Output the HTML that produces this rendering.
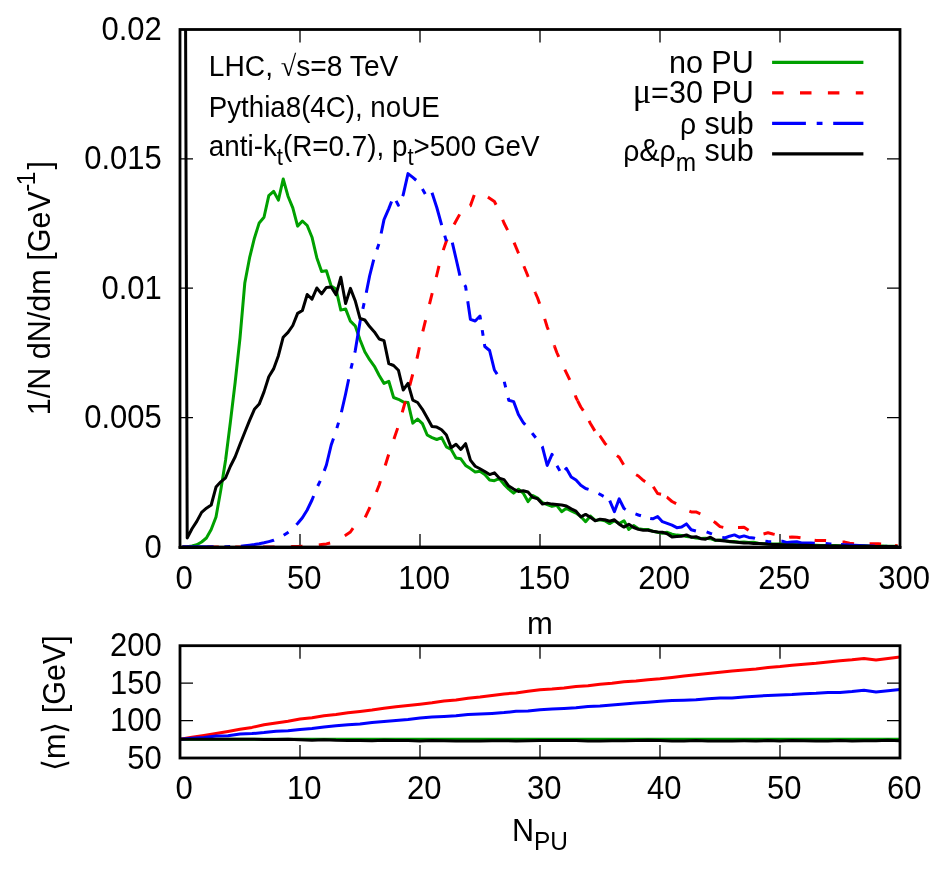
<!DOCTYPE html>
<html><head><meta charset="utf-8"><title>plot</title>
<style>html,body{margin:0;padding:0;background:#fff;}svg{display:block;will-change:transform;}text{font-family:"Liberation Sans",sans-serif;fill:#000;}</style></head><body>
<svg width="939" height="870" viewBox="0 0 939 870">
<rect x="0" y="0" width="939" height="870" fill="#fff"/>
<defs><clipPath id="c1"><rect x="180.0" y="29.5" width="720.0" height="519.5"/></clipPath>
<clipPath id="c2"><rect x="180.0" y="645.7" width="720.0" height="112.3"/></clipPath></defs>
<g stroke="#000" stroke-width="1.30" fill="none">
<path d="M300.0 547.0V534.0 M300.0 29.5V42.5"/>
<path d="M420.0 547.0V534.0 M420.0 29.5V42.5"/>
<path d="M540.0 547.0V534.0 M540.0 29.5V42.5"/>
<path d="M660.0 547.0V534.0 M660.0 29.5V42.5"/>
<path d="M780.0 547.0V534.0 M780.0 29.5V42.5"/>
<path d="M180.0 417.6H193.0 M900.0 417.6H887.0"/>
<path d="M180.0 288.2H193.0 M900.0 288.2H887.0"/>
<path d="M180.0 158.9H193.0 M900.0 158.9H887.0"/>
<path d="M300.0 758.0V745.0 M300.0 645.7V658.7"/>
<path d="M420.0 758.0V745.0 M420.0 645.7V658.7"/>
<path d="M540.0 758.0V745.0 M540.0 645.7V658.7"/>
<path d="M660.0 758.0V745.0 M660.0 645.7V658.7"/>
<path d="M780.0 758.0V745.0 M780.0 645.7V658.7"/>
<path d="M180.0 720.6H193.0 M900.0 720.6H887.0"/>
<path d="M180.0 683.1H193.0 M900.0 683.1H887.0"/>
</g>
<g clip-path="url(#c1)" fill="none" stroke-width="3.00" stroke-linejoin="round">
<polyline stroke="#00a000" points="182.4,547.0 187.2,546.8 192.0,546.0 196.8,544.7 201.6,542.0 206.4,538.0 211.2,529.5 216.0,517.0 220.8,490.0 225.6,460.0 230.4,422.0 235.2,382.0 240.0,338.0 244.8,283.0 249.6,257.7 254.4,238.2 259.2,222.9 264.0,217.3 268.8,195.6 273.6,191.3 278.4,200.1 283.2,179.0 288.0,196.2 292.8,207.9 297.6,226.1 302.4,221.0 307.2,225.5 312.0,237.2 316.8,257.7 321.6,271.4 326.4,270.8 331.2,286.1 336.0,289.0 340.8,310.1 345.6,308.9 350.4,321.2 355.2,325.8 360.0,339.8 364.8,351.7 369.6,359.7 374.4,366.3 379.2,375.5 384.0,383.4 388.8,381.3 393.6,397.5 398.4,399.3 403.2,401.9 408.0,402.5 412.8,423.1 417.6,419.1 422.4,423.6 427.2,435.0 432.0,437.6 436.8,439.5 441.6,437.6 446.4,446.9 451.2,449.5 456.0,458.0 460.8,458.8 465.6,465.4 470.4,468.6 475.2,472.0 480.0,471.2 484.8,474.6 489.6,479.9 494.4,480.7 499.2,478.6 504.0,484.4 508.8,489.2 513.6,493.1 518.4,489.2 523.2,493.0 528.0,501.6 532.8,495.5 537.6,498.1 542.4,502.6 547.2,504.5 552.0,506.4 556.8,505.4 561.6,511.7 566.4,508.3 571.2,510.8 576.0,513.1 580.8,516.5 585.6,521.7 590.4,516.0 595.2,520.4 600.0,519.8 604.8,520.8 609.6,523.6 614.4,520.8 619.2,523.6 624.0,520.8 628.8,529.4 633.6,525.6 638.4,528.8 643.2,529.4 648.0,529.4 652.8,531.3 657.6,532.3 662.4,533.2 667.2,532.3 672.0,534.2 676.8,535.1 681.6,535.4 686.4,536.6 691.2,537.0 696.0,538.0 700.8,538.6 705.6,538.3 710.4,538.7 715.2,540.4 720.0,540.0 724.8,540.4 729.6,541.8 734.4,541.5 739.2,542.3 744.0,542.1 748.8,542.6 753.6,542.3 758.4,543.2 763.2,543.7 768.0,543.5 772.8,543.9 777.6,544.1 782.4,543.7 787.2,544.5 792.0,544.5 796.8,544.4 801.6,544.3 806.4,545.1 811.2,545.0 816.0,545.2 820.8,545.4 825.6,545.4 830.4,545.6 835.2,545.4 840.0,545.7 844.8,545.6 849.6,545.9 854.4,545.9 859.2,545.7 864.0,545.8 868.8,545.9 873.6,546.1 878.4,546.1 883.2,546.1 888.0,546.2 892.8,546.2 897.6,546.2"/>
<polyline stroke="#ff0000" stroke-dasharray="11.5 16.4" stroke-dashoffset="3" points="182.4,547.0 187.2,547.0 192.0,547.0 196.8,547.0 201.6,547.0 206.4,547.0 211.2,547.0 216.0,547.0 220.8,547.0 225.6,547.0 230.4,547.0 235.2,547.0 240.0,547.0 244.8,547.0 249.6,547.0 254.4,547.0 259.2,547.0 264.0,547.0 268.8,547.0 273.6,547.0 278.4,547.0 283.2,547.0 288.0,547.0 292.8,546.5 297.6,546.4 302.4,546.2 307.2,546.0 312.0,545.6 316.8,545.2 321.6,544.6 326.4,543.9 331.2,542.8 336.0,541.0 340.8,538.0 345.6,535.2 350.4,532.0 355.2,525.0 360.0,521.5 364.8,518.3 369.6,508.0 374.4,497.0 379.2,485.0 384.0,469.5 388.8,454.0 393.6,440.0 398.4,426.0 403.2,409.0 408.0,392.0 412.8,374.0 417.6,356.0 422.4,333.0 427.2,313.5 432.0,294.0 436.8,275.0 441.6,255.0 446.4,241.0 451.2,229.8 456.0,221.0 460.8,212.3 465.6,204.5 470.4,205.8 475.2,192.5 480.0,193.5 484.8,195.2 489.6,198.2 494.4,201.5 499.2,211.0 504.0,223.0 508.8,232.5 513.6,241.5 514.1,242.7"/>
<polyline stroke="#ff0000" stroke-dasharray="11.5 16.4" stroke-dashoffset="0" points="514.1,242.7 518.4,253.0 523.2,264.5 523.9,266.2"/>
<polyline stroke="#ff0000" stroke-dasharray="11.5 16.4" stroke-dashoffset="0" points="523.9,266.2 528.0,276.3 532.8,287.0 535.4,293.0"/>
<polyline stroke="#ff0000" stroke-dasharray="11.5 16.4" stroke-dashoffset="0" points="535.4,293.0 537.6,298.0 542.4,311.5 544.7,318.9"/>
<polyline stroke="#ff0000" stroke-dasharray="11.5 16.4" stroke-dashoffset="0" points="544.7,318.9 547.2,327.0 552.0,339.3 554.5,346.2"/>
<polyline stroke="#ff0000" stroke-dasharray="11.5 16.4" stroke-dashoffset="0" points="554.5,346.2 556.8,352.5 561.6,363.3 564.8,369.6"/>
<polyline stroke="#ff0000" stroke-dasharray="11.5 16.4" stroke-dashoffset="0" points="564.8,369.6 566.4,372.8 571.2,383.0 576.0,397.5 577.6,400.7"/>
<polyline stroke="#ff0000" stroke-dasharray="11.5 16.4" stroke-dashoffset="0" points="577.6,400.7 580.8,407.0 585.6,414.0 589.1,420.9"/>
<polyline stroke="#ff0000" stroke-dasharray="11.5 16.4" stroke-dashoffset="0" points="589.1,420.9 590.4,423.5 595.2,431.5 599.7,435.7"/>
<polyline stroke="#ff0000" stroke-dasharray="11.5 16.4" stroke-dashoffset="0" points="599.7,435.7 600.0,436.0 604.8,443.2 609.6,448.6 614.4,453.8 616.9,455.6"/>
<polyline stroke="#ff0000" stroke-dasharray="11.5 16.4" stroke-dashoffset="0" points="616.9,455.6 619.2,457.3 624.0,465.3 628.8,469.3 633.6,473.2 636.1,474.7"/>
<polyline stroke="#ff0000" stroke-dasharray="11.5 16.4" stroke-dashoffset="0" points="636.1,474.7 638.4,476.0 643.2,480.3 648.0,483.5 652.8,486.0 653.3,486.8"/>
<polyline stroke="#ff0000" stroke-dasharray="11.5 16.4" stroke-dashoffset="0" points="653.3,486.8 657.6,493.5 662.4,494.5 666.8,497.1"/>
<polyline stroke="#ff0000" stroke-dasharray="11.5 16.4" stroke-dashoffset="0" points="666.8,497.1 667.2,497.3 672.0,501.5 676.8,504.0 681.6,507.3 686.4,510.1 689.4,511.2"/>
<polyline stroke="#ff0000" stroke-dasharray="11.5 16.4" stroke-dashoffset="0" points="689.4,511.2 691.2,511.9 696.0,511.9 700.8,514.0 705.6,516.7 710.4,519.4 713.7,521.5"/>
<polyline stroke="#ff0000" stroke-dasharray="11.5 16.4" stroke-dashoffset="0" points="713.7,521.5 715.2,522.5 720.0,526.6 724.8,527.7 729.6,527.7 734.4,527.7 738.0,527.6"/>
<polyline stroke="#ff0000" stroke-dasharray="11.5 16.4" stroke-dashoffset="0" points="738.0,527.6 739.2,527.6 744.0,527.3 748.8,530.5 753.6,531.7 758.4,532.9 763.2,534.1 763.5,534.0"/>
<polyline stroke="#ff0000" stroke-dasharray="11.5 16.4" stroke-dashoffset="0" points="763.5,534.0 768.0,532.8 772.8,534.0 777.6,535.0 782.4,536.2 787.2,537.6 789.1,537.3"/>
<polyline stroke="#ff0000" stroke-dasharray="11.5 16.4" stroke-dashoffset="0" points="789.1,537.3 792.0,536.9 796.8,537.2 801.6,538.0 806.4,538.8 811.2,539.8 814.6,540.3"/>
<polyline stroke="#ff0000" stroke-dasharray="11.5 16.4" stroke-dashoffset="0" points="814.6,540.3 816.0,540.5 820.8,540.5 825.6,540.5 830.4,540.8 835.2,541.2 840.0,541.6 842.7,541.9"/>
<polyline stroke="#ff0000" stroke-dasharray="11.5 16.4" stroke-dashoffset="0" points="842.7,541.9 844.8,542.1 849.6,543.2 854.4,543.8 859.2,543.8 864.0,543.8 868.8,543.8 869.6,543.8"/>
<polyline stroke="#ff0000" stroke-dasharray="11.5 16.4" stroke-dashoffset="0" points="869.6,543.8 873.6,543.8 878.4,543.8 883.2,544.2 888.0,544.8 892.8,545.3 895.1,545.5"/>
<polyline stroke="#ff0000" stroke-dasharray="11.5 16.4" stroke-dashoffset="0" points="895.1,545.5 897.6,545.7"/>
<polyline stroke="#0000ff" stroke-dasharray="33.8 10.8 5.8 10.7" stroke-dashoffset="2.6" points="182.4,546.8 187.2,546.8 192.0,546.8 196.8,546.8 201.6,546.8 206.4,546.8 211.2,546.8 216.0,546.8 220.8,546.8 225.6,546.8 230.4,546.6 235.2,546.5 240.0,546.3 244.8,545.8 249.6,545.2 254.4,544.6 259.2,543.8 264.0,542.8 268.8,541.6 273.6,540.3 278.4,538.2 283.2,535.6 288.0,532.4 292.8,528.3 297.6,523.5 302.4,517.8 307.2,510.0 312.0,500.0 316.8,488.0 321.6,478.0 326.4,465.0 331.2,445.0 336.0,431.0 340.8,415.0 345.6,394.0 350.4,371.0 355.2,351.0 360.0,322.0 364.8,300.0 369.6,276.0 374.4,257.0 379.2,243.0 384.0,219.6 388.8,208.6 393.6,196.3 398.4,205.2 402.6,196.2"/>
<polyline stroke="#0000ff" stroke-dasharray="33.8 10.8 5.8 10.7" stroke-dashoffset="0" points="402.6,196.2 403.2,194.9 408.0,173.6 412.8,177.4 417.6,181.5 422.4,189.0 427.2,197.5 432.0,192.8 436.8,207.5 441.6,224.8 446.4,241.2 451.2,238.0 456.0,258.5 460.8,279.5 465.6,286.5 470.4,319.3 475.2,321.0 480.0,316.0 484.4,344.0"/>
<polyline stroke="#0000ff" stroke-dasharray="33.8 10.8 5.8 10.7" stroke-dashoffset="0" points="484.4,344.0 484.8,346.5 489.6,350.5 494.4,370.0 499.2,377.3 504.0,380.6 508.8,400.3 513.6,401.6 518.4,414.5 523.2,422.5 528.0,428.0 532.8,434.0 537.6,440.0 542.4,446.8 547.2,465.5 552.0,454.3 556.8,465.5 561.6,474.0 564.9,470.1"/>
<polyline stroke="#0000ff" stroke-dasharray="33.8 10.8 5.8 10.7" stroke-dashoffset="0" points="564.9,470.1 566.4,468.4 571.2,477.0 576.0,480.0 580.8,485.3 585.6,488.5 590.4,490.0 595.2,491.8 600.0,494.3 604.8,497.0 609.6,500.5 609.7,500.7"/>
<polyline stroke="#0000ff" stroke-dasharray="38.3 10.8 5.8 10.7 33.8 10.8 5.8 10.7" stroke-dashoffset="0" points="609.7,500.7 614.4,511.7 619.2,498.9 624.0,508.5 628.8,511.3 633.6,513.3 638.4,515.0 643.2,516.5 648.0,518.0 650.2,518.4"/>
<polyline stroke="#0000ff" stroke-dasharray="53.7 10.8 5.8 10.7 33.8 10.8 5.8 10.7" stroke-dashoffset="0" points="650.2,518.4 652.8,518.8 657.6,516.5 662.4,521.7 667.2,523.4 672.0,525.2 676.8,527.7 681.6,527.0 686.4,523.9 691.2,529.8 696.0,531.1 700.8,531.3 705.6,531.5 710.4,533.4 715.2,535.0 720.0,536.8 722.8,537.5"/>
<polyline stroke="#0000ff" stroke-dasharray="33.8 10.8 5.8 10.7" stroke-dashoffset="0" points="722.8,537.5 724.8,538.0 729.6,536.2 734.4,534.9 739.2,537.2 744.0,535.9 748.8,537.4 753.6,538.0 758.4,539.5 763.2,541.0 768.0,541.6 772.8,541.8 777.6,541.5 781.4,541.3"/>
<polyline stroke="#0000ff" stroke-dasharray="33.8 10.8 5.8 10.7" stroke-dashoffset="0" points="781.4,541.3 782.4,541.3 787.2,542.6 792.0,542.0 796.8,541.8 801.6,543.0 806.4,543.1 811.2,543.1 816.0,543.3 820.8,543.1 825.6,543.5 830.4,544.0 835.2,544.3 840.0,544.5 841.0,544.5"/>
<polyline stroke="#0000ff" stroke-dasharray="33.8 10.8 5.8 10.7" stroke-dashoffset="0" points="841.0,544.5 844.8,544.7 849.6,544.9 854.4,545.2 859.2,545.4 864.0,545.7 868.8,545.9 873.6,546.1 878.4,546.2 883.2,546.3 888.0,546.4 892.8,546.4 897.6,546.5"/>
<polyline stroke="#000" points="182.4,-986.0 187.2,538.1 192.0,528.8 196.8,521.4 201.6,512.4 206.4,508.2 211.2,505.0 216.0,487.1 220.8,481.8 225.6,477.8 230.4,466.2 235.2,456.7 240.0,444.2 244.8,432.3 249.6,420.4 254.4,409.3 259.2,404.1 264.0,391.9 268.8,376.8 273.6,368.9 278.4,355.7 283.2,337.2 288.0,332.4 292.8,325.5 297.6,313.4 302.4,310.5 307.2,294.5 312.0,299.1 316.8,288.0 321.6,293.9 326.4,287.4 331.2,287.0 336.0,294.8 340.8,277.3 345.6,303.6 350.4,288.4 355.2,300.7 360.0,318.3 364.8,320.0 369.6,326.6 374.4,331.9 379.2,339.0 384.0,340.6 388.8,363.6 393.6,365.5 398.4,370.2 403.2,390.0 408.0,383.4 412.8,400.1 417.6,402.5 422.4,409.3 427.2,417.8 432.0,426.5 436.8,427.1 441.6,429.7 446.4,435.0 451.2,447.7 456.0,444.2 460.8,449.5 465.6,443.7 470.4,460.1 475.2,466.2 480.0,468.8 484.8,471.5 489.6,474.6 494.4,472.8 499.2,478.1 504.0,479.7 508.8,486.1 513.6,489.1 518.4,491.5 523.2,490.7 528.0,492.0 532.8,497.4 537.6,498.7 542.4,504.1 547.2,503.1 552.0,504.1 556.8,504.5 561.6,505.0 566.4,506.0 571.2,508.9 576.0,511.2 580.8,516.9 585.6,514.4 590.4,517.3 595.2,520.8 600.0,519.2 604.8,519.8 609.6,521.3 614.4,519.8 619.2,524.2 624.0,527.1 628.8,524.2 633.6,527.5 638.4,529.4 643.2,530.3 648.0,530.3 652.8,531.3 657.6,531.9 662.4,532.3 667.2,533.8 672.0,537.1 676.8,536.5 681.6,536.2 686.4,534.9 691.2,537.2 696.0,536.7 700.8,538.7 705.6,539.2 710.4,537.2 715.2,540.0 720.0,540.4 724.8,541.1 729.6,541.5 734.4,542.1 739.2,542.4 744.0,542.9 748.8,543.1 753.6,543.5 758.4,543.6 763.2,543.7 768.0,544.2 772.8,544.5 777.6,544.6 782.4,544.7 787.2,544.9 792.0,544.9 796.8,545.2 801.6,545.3 806.4,545.3 811.2,545.4 816.0,545.7 820.8,545.8 825.6,545.7 830.4,546.0 835.2,546.0 840.0,546.0 844.8,546.1 849.6,546.2 854.4,546.3 859.2,546.2 864.0,546.3 868.8,546.3 873.6,546.4 878.4,546.4 883.2,546.5 888.0,546.5 892.8,546.5 897.6,546.6"/>
</g>
<g fill="none" stroke-width="3.2">
<path stroke="#00a000" d="M772.1 62.4H863.4"/>
<path stroke="#ff0000" stroke-dasharray="11.5 16.4" d="M772.1 92.9H863.4"/>
<path stroke="#0000ff" stroke-dasharray="33.8 10.8 5.8 10.7" d="M772.1 123.4H863.4"/>
<path stroke="#000" d="M772.1 153.9H863.4"/>
</g>
<text transform="translate(753.80,72.60) scale(0.9550,1)" font-size="32.00" text-anchor="end">no PU</text>
<text transform="translate(753.80,103.10) scale(0.9550,1)" font-size="32.00" text-anchor="end"><tspan font-family="Liberation Serif" font-size="36">&#956;</tspan>=30 PU</text>
<text transform="translate(753.80,133.60) scale(0.9550,1)" font-size="32.00" text-anchor="end"><tspan font-size="29.6">&#961;</tspan> sub</text>
<text transform="translate(753.80,161.20) scale(0.9550,1)" font-size="32.00" text-anchor="end"><tspan font-size="29.6">&#961;</tspan>&amp;<tspan font-size="29.6">&#961;</tspan><tspan font-size="25.6" dy="9.4">m</tspan><tspan dy="-9.4"> sub</tspan></text>
<text transform="translate(208.80,75.80) scale(0.9720,1)" font-size="29.00" text-anchor="start">LHC, <tspan font-family="Liberation Serif">&#8730;</tspan>s=8 TeV</text>
<text transform="translate(208.80,116.90) scale(0.9550,1)" font-size="29.00" text-anchor="start">Pythia8(4C), noUE</text>
<text transform="translate(208.80,156.20) scale(0.9590,1)" font-size="29.00" text-anchor="start">anti-k<tspan font-size="23.2" dy="9.2">t</tspan><tspan dy="-9.2">(R=0.7), p</tspan><tspan font-size="23.2" dy="9.2">t</tspan><tspan dy="-9.2">&gt;500 GeV</tspan></text>
<text transform="translate(161.80,40.00) scale(0.9550,1)" font-size="32.50" text-anchor="end">0.02</text>
<text transform="translate(161.80,169.38) scale(0.9550,1)" font-size="32.50" text-anchor="end">0.015</text>
<text transform="translate(161.80,298.75) scale(0.9550,1)" font-size="32.50" text-anchor="end">0.01</text>
<text transform="translate(161.80,428.12) scale(0.9550,1)" font-size="32.50" text-anchor="end">0.005</text>
<text transform="translate(161.80,557.50) scale(0.9550,1)" font-size="32.50" text-anchor="end">0</text>
<text transform="translate(184.20,588.50) scale(0.9550,1)" font-size="32.50" text-anchor="middle">0</text>
<text transform="translate(304.20,588.50) scale(0.9550,1)" font-size="32.50" text-anchor="middle">50</text>
<text transform="translate(424.20,588.50) scale(0.9550,1)" font-size="32.50" text-anchor="middle">100</text>
<text transform="translate(544.20,588.50) scale(0.9550,1)" font-size="32.50" text-anchor="middle">150</text>
<text transform="translate(664.20,588.50) scale(0.9550,1)" font-size="32.50" text-anchor="middle">200</text>
<text transform="translate(784.20,588.50) scale(0.9550,1)" font-size="32.50" text-anchor="middle">250</text>
<text transform="translate(904.20,588.50) scale(0.9550,1)" font-size="32.50" text-anchor="middle">300</text>
<text x="540.00" y="634.20" font-size="31.00" text-anchor="middle">m</text>
<text transform="translate(161.80,656.20) scale(0.9550,1)" font-size="32.50" text-anchor="end">200</text>
<text transform="translate(161.80,693.63) scale(0.9550,1)" font-size="32.50" text-anchor="end">150</text>
<text transform="translate(161.80,731.07) scale(0.9550,1)" font-size="32.50" text-anchor="end">100</text>
<text transform="translate(161.80,768.50) scale(0.9550,1)" font-size="32.50" text-anchor="end">50</text>
<text transform="translate(184.20,799.40) scale(0.9550,1)" font-size="32.50" text-anchor="middle">0</text>
<text transform="translate(304.20,799.40) scale(0.9550,1)" font-size="32.50" text-anchor="middle">10</text>
<text transform="translate(424.20,799.40) scale(0.9550,1)" font-size="32.50" text-anchor="middle">20</text>
<text transform="translate(544.20,799.40) scale(0.9550,1)" font-size="32.50" text-anchor="middle">30</text>
<text transform="translate(664.20,799.40) scale(0.9550,1)" font-size="32.50" text-anchor="middle">40</text>
<text transform="translate(784.20,799.40) scale(0.9550,1)" font-size="32.50" text-anchor="middle">50</text>
<text transform="translate(904.20,799.40) scale(0.9550,1)" font-size="32.50" text-anchor="middle">60</text>
<text transform="translate(540.00,841.20) scale(0.9550,1)" font-size="32.00" text-anchor="middle">N<tspan font-size="25.6" dy="9.1">PU</tspan></text>
<text transform="translate(50,415.2) rotate(-90) scale(0.9550,1)" font-size="32">1/N dN/dm [GeV<tspan font-size="25.6" dy="-15.5" dx="-0.6" letter-spacing="-1.6">-1</tspan><tspan dy="15.5" dx="3.8">]</tspan></text>
<text transform="translate(65,703) rotate(-90) scale(0.9550,1)" font-size="32" text-anchor="middle">&#10216;m&#10217; [GeV]</text>
<g clip-path="url(#c2)" fill="none" stroke-width="3.00" stroke-linejoin="round">
<polyline stroke="#00a000" points="180.0,739.3 900.0,739.3"/>
<polyline stroke="#ff0000" points="180.0,739.3 192.0,737.3 204.0,735.4 216.0,733.4 228.0,731.4 240.0,729.3 252.0,727.4 264.0,724.8 276.0,723.0 288.0,721.3 300.0,719.1 312.0,717.7 324.0,715.8 336.0,714.5 348.0,712.8 360.0,711.5 372.0,710.0 384.0,708.2 396.0,706.8 408.0,705.4 420.0,704.2 432.0,702.8 444.0,701.0 456.0,700.0 468.0,698.2 480.0,697.1 492.0,695.4 504.0,693.9 516.0,693.0 528.0,691.2 540.0,689.8 552.0,689.1 564.0,687.9 576.0,686.4 588.0,685.7 600.0,684.3 612.0,683.2 624.0,681.8 636.0,681.1 648.0,679.8 660.0,678.8 672.0,677.5 684.0,676.0 696.0,674.8 708.0,673.5 720.0,672.3 732.0,671.0 744.0,670.0 756.0,669.0 768.0,667.4 780.0,666.6 792.0,665.3 804.0,664.2 816.0,663.3 828.0,662.0 840.0,660.8 852.0,659.8 864.0,658.4 876.0,659.9 888.0,658.5 900.0,657.0"/>
<polyline stroke="#0000ff" points="180.0,739.3 192.0,738.3 204.0,737.5 216.0,736.1 228.0,735.7 240.0,734.1 252.0,733.6 264.0,732.6 276.0,731.2 288.0,730.7 300.0,729.4 312.0,728.4 324.0,726.9 336.0,725.8 348.0,724.7 360.0,724.0 372.0,722.4 384.0,721.6 396.0,720.6 408.0,719.4 420.0,717.9 432.0,717.1 444.0,716.4 456.0,715.8 468.0,714.6 480.0,714.1 492.0,713.4 504.0,712.6 516.0,711.3 528.0,711.1 540.0,709.8 552.0,709.1 564.0,708.4 576.0,707.7 588.0,706.5 600.0,706.0 612.0,704.9 624.0,703.9 636.0,703.1 648.0,702.2 660.0,701.2 672.0,700.6 684.0,700.3 696.0,699.8 708.0,698.7 720.0,698.0 732.0,697.9 744.0,697.0 756.0,696.2 768.0,695.5 780.0,695.1 792.0,694.6 804.0,693.8 816.0,693.3 828.0,692.5 840.0,692.4 852.0,691.6 864.0,690.3 876.0,692.0 888.0,690.8 900.0,689.5"/>
<polyline stroke="#000" points="180.0,739.3 192.0,739.3 204.0,739.3 216.0,739.3 228.0,739.3 240.0,739.3 252.0,739.3 264.0,739.4 276.0,739.5 288.0,739.2 300.0,739.8 312.0,740.2 324.0,739.7 336.0,740.3 348.0,740.6 360.0,740.5 372.0,740.7 384.0,740.2 396.0,740.6 408.0,740.4 420.0,741.0 432.0,740.5 444.0,740.7 456.0,741.1 468.0,741.0 480.0,741.1 492.0,740.7 504.0,740.7 516.0,740.9 528.0,740.7 540.0,740.5 552.0,740.6 564.0,740.4 576.0,740.6 588.0,741.1 600.0,741.1 612.0,740.8 624.0,740.7 636.0,740.6 648.0,740.3 660.0,740.5 672.0,741.0 684.0,741.0 696.0,740.6 708.0,741.0 720.0,740.9 732.0,740.9 744.0,740.8 756.0,740.9 768.0,740.6 780.0,740.9 792.0,740.5 804.0,740.7 816.0,740.9 828.0,740.9 840.0,740.5 852.0,741.1 864.0,740.8 876.0,740.8 888.0,740.3 900.0,740.7"/>
</g>
<g stroke="#000" stroke-width="2.80" fill="none" stroke-linejoin="miter">
<rect x="180.0" y="29.5" width="720.0" height="517.5"/>
<rect x="180.0" y="645.7" width="720.0" height="112.3"/>
<path d="M178.6 547.5H901.4"/>
</g>
</svg></body></html>
